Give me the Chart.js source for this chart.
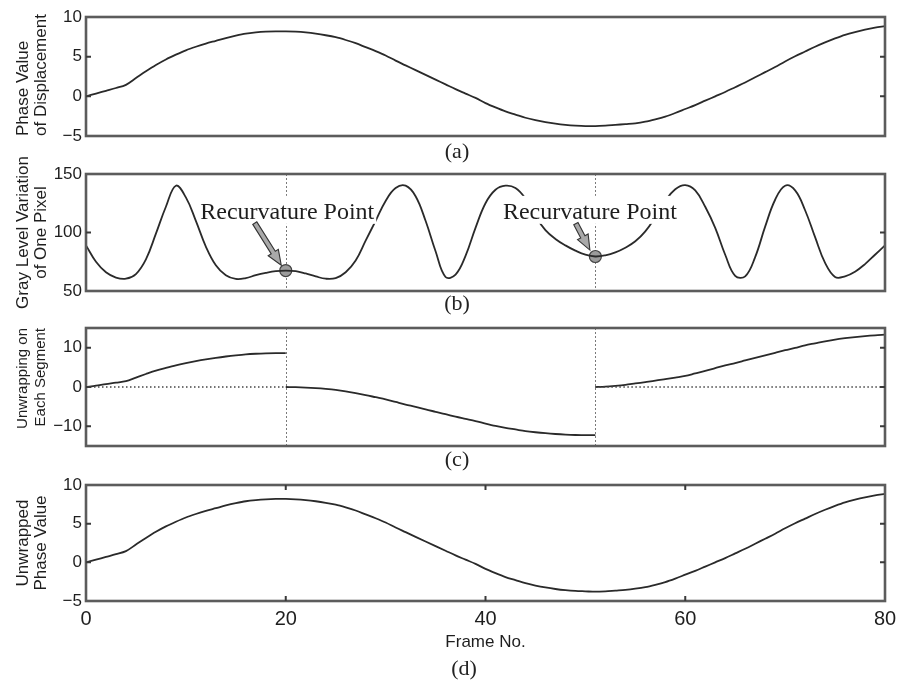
<!DOCTYPE html>
<html>
<head>
<meta charset="utf-8">
<script src="https://cdn.jsdelivr.net/npm/chart.js@4/dist/chart.umd.min.js"></script>
<style>
html,body{margin:0;padding:0;background:#fff;}
body{width:897px;height:684px;position:relative;overflow:hidden;}
.panel{position:absolute;left:0;width:897px;}
.cap{position:absolute;font-family:"Liberation Serif","Times New Roman",serif;font-size:22px;line-height:22px;color:#222;transform:translate(-50%,-50%);white-space:nowrap;}
</style>
</head>
<body>
<div class="panel" style="top:0px;height:156px"><canvas id="ca"></canvas></div>
<div class="panel" style="top:154px;height:157px"><canvas id="cb"></canvas></div>
<div class="panel" style="top:308px;height:158px"><canvas id="cc"></canvas></div>
<div class="panel" style="top:465px;height:188px"><canvas id="cd"></canvas></div>
<div class="cap" id="capA" style="left:457px;top:151px"></div>
<div class="cap" id="capB" style="left:457px;top:303px"></div>
<div class="cap" id="capC" style="left:457px;top:459px"></div>
<div class="cap" id="capD" style="left:464px;top:668px"></div>
<script>
// ---------------- data ----------------
const frames = [0,1,2,3,4,5,6,7,8,9,10,11,12,13,14,15,16,17,18,19,20,21,22,23,24,25,26,27,28,29,30,31,32,33,34,35,36,37,38,39,40,41,42,43,44,45,46,47,48,49,50,51,52,53,54,55,56,57,58,59,60,61,62,63,64,65,66,67,68,69,70,71,72,73,74,75,76,77,78,79,80];

// (a) phase value of displacement
const phaseDisplacement = [0.0,0.35,0.7,1.05,1.45,2.3,3.15,3.95,4.65,5.25,5.8,6.25,6.65,7.0,7.35,7.65,7.9,8.05,8.15,8.2,8.2,8.15,8.05,7.9,7.7,7.45,7.1,6.7,6.2,5.7,5.15,4.5,3.9,3.3,2.7,2.1,1.5,0.9,0.35,-0.2,-0.85,-1.4,-1.9,-2.3,-2.7,-3.0,-3.25,-3.45,-3.6,-3.7,-3.75,-3.75,-3.7,-3.6,-3.5,-3.4,-3.2,-2.9,-2.55,-2.1,-1.6,-1.1,-0.55,0.0,0.55,1.15,1.75,2.4,3.05,3.7,4.4,5.05,5.65,6.25,6.8,7.3,7.75,8.1,8.4,8.65,8.85];

// (b) gray level variation of one pixel
const grayLevel = [89,75,66,61.5,60.5,64.5,77,99,122,140,130,110,88,72,63.5,60.3,61,63.5,65.5,67,67.5,67,65,62.5,60.5,61,66,76,93,110,127,138,140,131,110,84,62,64,80,104,125,136.5,140,138,129,114,102,94.5,89,84.5,81,79.5,80.5,83,87,92.5,101,113,127,137,140.5,136,122,104,81,63,62.5,79,105,128,140,136,119,96,74,62,62.5,66.5,73,81,89];

// (c) unwrapping on each segment
const segment1 = [0,0.35,0.75,1.1,1.5,2.4,3.3,4.15,4.85,5.5,6.05,6.55,7.0,7.4,7.75,8.05,8.3,8.45,8.55,8.6,8.6];            // frames 0-20
const segment2 = [0,-0.05,-0.15,-0.3,-0.5,-0.75,-1.1,-1.55,-2.05,-2.6,-3.15,-3.8,-4.45,-5.05,-5.7,-6.3,-6.9,-7.55,-8.1,-8.65,-9.3,-9.9,-10.4,-10.8,-11.2,-11.5,-11.75,-11.95,-12.1,-12.2,-12.25,-12.25]; // frames 20-51
const segment3 = [0,0.1,0.3,0.55,0.9,1.25,1.6,2.0,2.4,2.8,3.45,4.1,4.8,5.5,6.1,6.75,7.4,8.05,8.7,9.35,9.95,10.6,11.1,11.6,12.05,12.4,12.7,12.95,13.15,13.3]; // frames 51-80

// (d) unwrapped phase value
const unwrappedPhase = [0.0,0.35,0.7,1.05,1.45,2.3,3.15,3.95,4.65,5.25,5.8,6.25,6.65,7.0,7.35,7.65,7.9,8.05,8.15,8.2,8.2,8.15,8.05,7.9,7.7,7.45,7.1,6.7,6.2,5.7,5.15,4.5,3.9,3.3,2.7,2.1,1.5,0.9,0.35,-0.2,-0.85,-1.4,-1.9,-2.3,-2.7,-3.0,-3.25,-3.45,-3.6,-3.7,-3.75,-3.8,-3.75,-3.65,-3.55,-3.4,-3.2,-2.9,-2.55,-2.1,-1.6,-1.1,-0.55,0.0,0.55,1.15,1.75,2.4,3.05,3.7,4.4,5.05,5.65,6.25,6.8,7.3,7.75,8.1,8.4,8.65,8.85];

const segment1Frames = frames.slice(0, 21);
const segment2Frames = frames.slice(20, 52);
const segment3Frames = frames.slice(51, 81);
const recurvatureFrames = [20, 51];
const zeroSpans = [[0, 20], [51, 80]];

const yTicksA = [-5, 0, 5, 10];
const yTicksB = [50, 100, 150];
const yTicksC = [-10, 0, 10];
const yTicksD = [-5, 0, 5, 10];
const xTicksD = [0, 20, 40, 60, 80];

const captions = ['(a)', '(b)', '(c)', '(d)'];
const yTitles = [['Phase Value', 'of Displacement'], ['Gray Level Variation', 'of One Pixel'], ['Unwrapping on', 'Each Segment'], ['Unwrapped', 'Phase Value']];
const xTitle = 'Frame No.';
const annotationText = 'Recurvature Point';

// ---------------- styling / annotation placement ----------------
const SANS = '"Liberation Sans", Arial, Helvetica, sans-serif';
const SERIF = '"Liberation Serif", "Times New Roman", serif';
const LINE = '#2a2a2a';
const TEXT = '#1e1e1e';
const labelAnchors = [{frame: 20.15, value: 118.5}, {frame: 50.45, value: 118.5}];
const arrowDefs = [{from: [16.9, 108], to: [19.55, 72]}, {from: [49.05, 107.5], to: [50.45, 85]}];

document.getElementById('capA').textContent = captions[0];
document.getElementById('capB').textContent = captions[1];
document.getElementById('capC').textContent = captions[2];
document.getElementById('capD').textContent = captions[3];

function pts(xs, ys) { return xs.map((x, i) => ({x: x, y: ys[i]})); }
function fmt(v) { return v < 0 ? '\u2212' + Math.abs(v) : String(v); }

function lineDs(data, extra) {
  return Object.assign({data: data, borderColor: LINE, borderWidth: 1.8, pointRadius: 0,
    cubicInterpolationMode: 'monotone', fill: false}, extra || {});
}

function drawArrow(ctx, x1, y1, x2, y2) {
  const ang = Math.atan2(y2 - y1, x2 - x1);
  const len = Math.hypot(x2 - x1, y2 - y1);
  const hl = 15, hw = 6, sw = 2.4;
  ctx.save();
  ctx.translate(x1, y1);
  ctx.rotate(ang);
  ctx.beginPath();
  ctx.moveTo(0, -sw); ctx.lineTo(len - hl, -sw); ctx.lineTo(len - hl, -hw);
  ctx.lineTo(len, 0);
  ctx.lineTo(len - hl, hw); ctx.lineTo(len - hl, sw); ctx.lineTo(0, sw); ctx.closePath();
  ctx.fillStyle = '#a9a9a9'; ctx.fill();
  ctx.strokeStyle = '#333'; ctx.lineWidth = 1.1; ctx.stroke();
  ctx.restore();
}

function decor(cfg) {
  return {
    id: 'decor',
    beforeDatasetsDraw(chart) {
      const {ctx, chartArea: a, scales} = chart;
      if (cfg.vlines) {
        ctx.save();
        ctx.strokeStyle = '#7a7a7a'; ctx.lineWidth = 1; ctx.setLineDash([2, 2]);
        cfg.vlines.forEach(f => {
          const x = Math.round(scales.x.getPixelForValue(f)) + 0.5;
          ctx.beginPath(); ctx.moveTo(x, a.top); ctx.lineTo(x, a.bottom); ctx.stroke();
        });
        ctx.restore();
      }
    },
    afterDatasetsDraw(chart) {
      const {ctx, chartArea: a, scales} = chart;
      if (cfg.labels) {
        ctx.save();
        ctx.font = '24px ' + SERIF;
        cfg.labels.forEach(l => {
          const x = scales.x.getPixelForValue(l.frame), y = scales.y.getPixelForValue(l.value);
          const w = ctx.measureText(annotationText).width;
          ctx.fillStyle = '#fff';
          ctx.fillRect(x - w / 2 - 2, y - 15, w + 4, 28);
          ctx.fillStyle = TEXT; ctx.textAlign = 'center'; ctx.textBaseline = 'alphabetic';
          ctx.fillText(annotationText, x, y + 8);
        });
        ctx.restore();
      }
      if (cfg.arrows) {
        cfg.arrows.forEach(ar => {
          drawArrow(ctx, scales.x.getPixelForValue(ar.from[0]), scales.y.getPixelForValue(ar.from[1]),
                         scales.x.getPixelForValue(ar.to[0]), scales.y.getPixelForValue(ar.to[1]));
        });
      }
      // frame box
      ctx.save();
      ctx.strokeStyle = '#5c5c5c'; ctx.lineWidth = 2.6;
      ctx.strokeRect(a.left, a.top, a.right - a.left, a.bottom - a.top);
      ctx.strokeStyle = '#3a3a3a'; ctx.lineWidth = 2;
      cfg.yTicks.forEach(v => {
        const y = scales.y.getPixelForValue(v);
        if (y <= a.top + 2 || y >= a.bottom - 2) return;
        ctx.beginPath(); ctx.moveTo(a.left, y); ctx.lineTo(a.left + 5, y);
        ctx.moveTo(a.right, y); ctx.lineTo(a.right - 5, y); ctx.stroke();
      });
      if (cfg.xTicks) {
        cfg.xTicks.forEach(v => {
          const x = scales.x.getPixelForValue(v);
          if (x <= a.left + 2 || x >= a.right - 2) return;
          ctx.beginPath(); ctx.moveTo(x, a.top); ctx.lineTo(x, a.top + 5);
          ctx.moveTo(x, a.bottom); ctx.lineTo(x, a.bottom - 5); ctx.stroke();
        });
      }
      ctx.restore();
    }
  };
}

function yScale(min, max, ticks, title, align, size) {
  return {
    type: 'linear', min: min, max: max,
    afterBuildTicks: s => { s.ticks = ticks.map(v => ({value: v})); },
    afterFit: s => { s.width = 86; },
    grid: {display: false, drawTicks: false},
    border: {display: false},
    ticks: {padding: 4, color: TEXT, font: {family: SANS, size: 17}, callback: v => fmt(v)},
    title: {display: true, text: title, align: align, color: TEXT,
      padding: {top: 14, bottom: 0}, font: {family: SANS, size: size, lineHeight: 18 / size}}
  };
}

function xHidden() {
  return {type: 'linear', min: 0, max: 80, display: false};
}

function makeChart(id, datasets, scales, padding, cfg) {
  return new Chart(document.getElementById(id), {
    type: 'line',
    data: {datasets: datasets},
    options: {
      responsive: true, maintainAspectRatio: false, animation: false, devicePixelRatio: 1,
      events: [],
      layout: {padding: padding},
      plugins: {legend: {display: false}, tooltip: {enabled: false}},
      scales: scales
    },
    plugins: [decor(cfg)]
  });
}

// (a)
makeChart('ca', [lineDs(pts(frames, phaseDisplacement))],
  {x: xHidden(), y: yScale(-5, 10, yTicksA, yTitles[0], 'start', 17)},
  {top: 17, bottom: 20, left: 0, right: 12}, {yTicks: yTicksA});

// (b)
const recurvaturePoints = recurvatureFrames.map(f => ({x: f, y: grayLevel[frames.indexOf(f)]}));
makeChart('cb', [
    lineDs(pts(frames, grayLevel), {cubicInterpolationMode: 'default', tension: 0.4}),
    {data: recurvaturePoints, showLine: false, pointRadius: 6, pointBackgroundColor: '#9c9c9c',
     pointBorderColor: '#444', pointBorderWidth: 1.2, borderColor: '#444'}
  ],
  {x: xHidden(), y: yScale(50, 150, yTicksB, yTitles[1], 'center', 17)},
  {top: 20, bottom: 20, left: 0, right: 12},
  {yTicks: yTicksB, vlines: recurvatureFrames, labels: labelAnchors, arrows: arrowDefs});

// (c)
const zeroDs = zeroSpans.map(sp => ({data: [{x: sp[0], y: 0}, {x: sp[1], y: 0}], borderColor: '#444',
  borderWidth: 1.6, borderDash: [1.5, 2.5], pointRadius: 0, fill: false}));
makeChart('cc', zeroDs.concat([
    lineDs(pts(segment1Frames, segment1)),
    lineDs(pts(segment2Frames, segment2)),
    lineDs(pts(segment3Frames, segment3))
  ]),
  {x: xHidden(), y: yScale(-15, 15, yTicksC, yTitles[2], 'end', 15)},
  {top: 20, bottom: 20, left: 0, right: 12},
  {yTicks: yTicksC, vlines: recurvatureFrames});

// (d)
makeChart('cd', [lineDs(pts(frames, unwrappedPhase))],
  {
    x: {
      type: 'linear', min: 0, max: 80,
      afterBuildTicks: s => { s.ticks = xTicksD.map(v => ({value: v})); },
      afterFit: s => { s.height = 52; s.paddingLeft = 0; s.paddingRight = 0; },
      grid: {display: false, drawTicks: false},
      border: {display: false},
      ticks: {padding: 6, color: TEXT, font: {family: SANS, size: 20}, maxRotation: 0, autoSkip: false},
      title: {display: true, text: xTitle, color: TEXT, padding: 0, font: {family: SANS, size: 17}}
    },
    y: yScale(-5, 10, yTicksD, yTitles[3], 'center', 17)
  },
  {top: 20, bottom: 0, left: 0, right: 12},
  {yTicks: yTicksD, xTicks: xTicksD});
</script>
</body>
</html>
